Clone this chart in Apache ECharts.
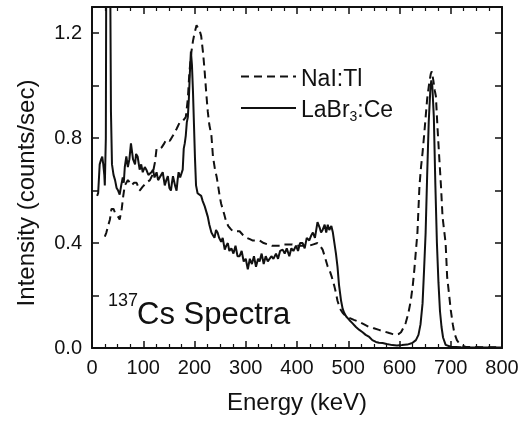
<!DOCTYPE html>
<html>
<head>
<meta charset="utf-8">
<script src="https://cdn.jsdelivr.net/npm/echarts@6/dist/echarts.min.js"></script>
<style>
html,body{margin:0;padding:0;background:#fff;}
#chart{width:525px;height:423px;}
</style>
</head>
<body>
<div id="chart"></div>
<script>
// Energy (keV), intensity (counts/sec)
const labrEnergy = [10,12,15,18,20,22,24,25,27,28,30,33,35,37,39,42,45,48,51,54,57,60,62,64,67,70,73,76,80,84,86,89,93,96,99,103,106,110,113,116,119,122,126,129,132,135,138,142,145,148,151,154,156,158,162,165,167,169,172,175,177,179,181,183,185,187,189,191,193,195,197,199,201,203,206,209,213,216,220,223,226,229,233,236,239,242,245,248,252,255,259,262,265,268,272,276,280,284,288,292,296,300,304,308,312,316,320,324,327,331,335,339,343,346,350,354,359,363,367,372,376,380,385,389,393,398,402,406,411,415,419,424,428,431,435,440,444,447,450,454,457,460,463,467,470,473,476,479,482,486,489,492,496,502,508,515,521,528,534,541,547,554,560,567,575,586,595,605,615,625,632,637,641,645,648,651,654,657,660,662,664,667,670,673,676,679,682,685,690,700,720,750,800];
const labrValue = [0.58,0.59,0.70,0.72,0.73,0.70,0.66,0.62,0.80,1.6,2.0,2.0,1.6,0.9,0.70,0.66,0.64,0.61,0.60,0.585,0.62,0.65,0.63,0.69,0.73,0.69,0.72,0.78,0.72,0.70,0.74,0.73,0.68,0.70,0.67,0.69,0.68,0.66,0.655,0.67,0.68,0.65,0.67,0.64,0.64,0.66,0.67,0.62,0.64,0.655,0.61,0.60,0.63,0.655,0.62,0.60,0.64,0.67,0.65,0.655,0.68,0.76,0.78,0.81,0.86,0.88,0.95,1.05,1.13,1.08,0.98,0.85,0.72,0.62,0.59,0.59,0.58,0.56,0.54,0.52,0.50,0.47,0.44,0.43,0.42,0.45,0.44,0.42,0.405,0.42,0.375,0.39,0.40,0.37,0.38,0.36,0.39,0.35,0.35,0.37,0.33,0.34,0.30,0.34,0.32,0.35,0.31,0.34,0.33,0.36,0.32,0.35,0.33,0.325,0.35,0.34,0.36,0.34,0.37,0.375,0.36,0.38,0.35,0.38,0.37,0.39,0.37,0.40,0.40,0.38,0.42,0.41,0.43,0.44,0.42,0.48,0.46,0.44,0.45,0.47,0.44,0.47,0.45,0.465,0.44,0.40,0.36,0.31,0.24,0.18,0.15,0.134,0.12,0.107,0.095,0.08,0.07,0.06,0.05,0.042,0.03,0.023,0.02,0.019,0.015,0.011,0.01,0.011,0.013,0.019,0.03,0.05,0.09,0.17,0.30,0.44,0.66,0.86,0.98,1.02,1.00,0.88,0.62,0.40,0.25,0.14,0.08,0.04,0.012,0.005,0.003,0.002,0.002];

const naiEnergy = [25,28,32,35,38,42,45,48,51,54,58,61,64,67,70,74,77,82,87,93,99,106,113,118,123,126,131,136,141,145,152,158,165,171,177,183,187,190,194,197,200,204,207,210,213,217,220,223,226,229,233,236,240,243,246,249,252,255,258,262,266,270,275,281,288,295,302,308,313,320,327,335,343,351,359,367,375,383,391,400,408,416,424,432,440,445,450,454,457,460,463,468,473,476,479,484,489,495,502,511,521,531,541,550,560,570,580,587,593,598,603,607,612,617,622,626,629,632,635,639,642,645,648,651,654,658,661,663,666,669,671,674,677,681,684,687,690,693,697,700,704,707,712,716,722,729,740,760,780,800];
const naiValue = [0.425,0.44,0.47,0.49,0.53,0.53,0.515,0.515,0.50,0.49,0.53,0.58,0.62,0.63,0.64,0.63,0.62,0.63,0.63,0.60,0.615,0.63,0.64,0.66,0.71,0.76,0.76,0.765,0.78,0.795,0.79,0.81,0.835,0.86,0.865,0.88,0.95,1.05,1.13,1.17,1.20,1.23,1.23,1.21,1.19,1.12,1.05,0.97,0.90,0.85,0.81,0.73,0.68,0.655,0.62,0.58,0.55,0.53,0.51,0.48,0.465,0.455,0.445,0.445,0.445,0.43,0.42,0.415,0.41,0.41,0.41,0.40,0.395,0.39,0.39,0.39,0.395,0.395,0.395,0.39,0.39,0.39,0.39,0.395,0.40,0.39,0.375,0.35,0.33,0.31,0.30,0.27,0.235,0.21,0.18,0.15,0.134,0.122,0.115,0.107,0.10,0.09,0.08,0.075,0.069,0.063,0.057,0.053,0.05,0.053,0.06,0.075,0.095,0.13,0.18,0.24,0.30,0.37,0.44,0.62,0.69,0.745,0.81,0.88,0.95,1.01,1.045,1.055,1.02,0.98,0.96,0.845,0.745,0.615,0.50,0.45,0.40,0.27,0.20,0.145,0.09,0.057,0.03,0.019,0.01,0.004,0.004,0.003,0.003,0.003];

const seriesNames = ['NaI:Tl', 'LaBr3:Ce'];
const xTickValues = [0,100,200,300,400,500,600,700,800];
const yTickLabels = ['0.0','0.4','0.8','1.2'];

const FONT = "'Liberation Sans', Arial, Helvetica, sans-serif";
const INK = '#111';

function pairs(xs, ys){ return xs.map((x,i)=>[x, ys[i]]); }

const chart = echarts.init(document.getElementById('chart'), null, {renderer:'canvas'});

const xCommon = {
  type:'value', min:0, max:800, interval:100,
  axisLine:{show:true, onZero:false, lineStyle:{color:INK, width:2}},
  axisTick:{show:true, inside:true, length:7, lineStyle:{color:INK, width:1.5}},
  minorTick:{show:true, splitNumber:4, length:4, lineStyle:{color:INK, width:1.2}},
  splitLine:{show:false}
};
const yCommon = {
  type:'value', min:0, max:1.3, interval:0.2,
  axisLine:{show:true, onZero:false, lineStyle:{color:INK, width:2}},
  axisTick:{show:true, inside:true, length:7, lineStyle:{color:INK, width:1.5}},
  splitLine:{show:false}
};

chart.setOption({
  animation:false,
  backgroundColor:'#fff',
  grid:{left:92, right:23, top:7, bottom:75, containLabel:false},
  xAxis:[
    Object.assign({}, xCommon, {
      position:'bottom',
      name:'Energy (keV)', nameLocation:'middle', nameGap:43,
      nameTextStyle:{fontFamily:FONT, fontSize:24, color:INK},
      axisLabel:{show:true, margin:10, fontFamily:FONT, fontSize:20, color:INK,
        formatter:function(v){ return xTickValues.indexOf(v) >= 0 ? String(v) : ''; }}
    }),
    Object.assign({}, xCommon, {position:'top', axisLabel:{show:false}})
  ],
  yAxis:[
    Object.assign({}, yCommon, {
      position:'left',
      axisLabel:{show:true, margin:10, fontFamily:FONT, fontSize:20, color:INK,
        formatter:function(v){
          const k = Math.round(v*10);
          if (k % 4 !== 0) return '';
          const s = (k/10).toFixed(1);
          return yTickLabels.indexOf(s) >= 0 ? s : '';
        }}
    }),
    Object.assign({}, yCommon, {position:'right', axisLabel:{show:false}})
  ],
  legend:{
    show:true, orient:'vertical', left:240, top:62, padding:0,
    itemWidth:55, itemHeight:14, itemGap:1,
    data:seriesNames,
    itemStyle:{opacity:0, borderWidth:0},
    formatter:function(n){ return n === 'LaBr3:Ce' ? '{m|LaBr}{sub|3}{m|:Ce}' : '{m|' + n + '}'; },
    textStyle:{fontFamily:FONT, fontSize:23, color:INK,
      rich:{
        m:{fontFamily:FONT, fontSize:23, color:INK, lineHeight:24, padding:[6,0,0,0]},
        sub:{fontFamily:FONT, fontSize:14, color:INK, lineHeight:12, padding:[18,0,0,0]}
      }}
  },
  series:[
    {
      name:seriesNames[0], type:'line', data:pairs(naiEnergy, naiValue),
      symbol:'none', showSymbol:false, clip:true,
      lineStyle:{color:INK, width:2, type:[8,5]}, itemStyle:{color:INK}
    },
    {
      name:seriesNames[1], type:'line', data:pairs(labrEnergy, labrValue),
      symbol:'none', showSymbol:false, clip:true,
      lineStyle:{color:INK, width:2, type:'solid'}, itemStyle:{color:INK}
    }
  ],
  graphic:[
    {type:'text', x:27, y:193, rotation:Math.PI/2,
      style:{text:'Intensity (counts/sec)', font:"24px "+FONT, fill:INK, textAlign:'center', textVerticalAlign:'middle'}},
    {type:'text', x:108, y:301,
      style:{text:'137', font:"18px "+FONT, fill:INK, textAlign:'left', textVerticalAlign:'middle'}},
    {type:'text', x:137, y:315,
      style:{text:'Cs Spectra', font:"31px "+FONT, fill:INK, textAlign:'left', textVerticalAlign:'middle'}}
  ]
});
</script>
</body>
</html>
